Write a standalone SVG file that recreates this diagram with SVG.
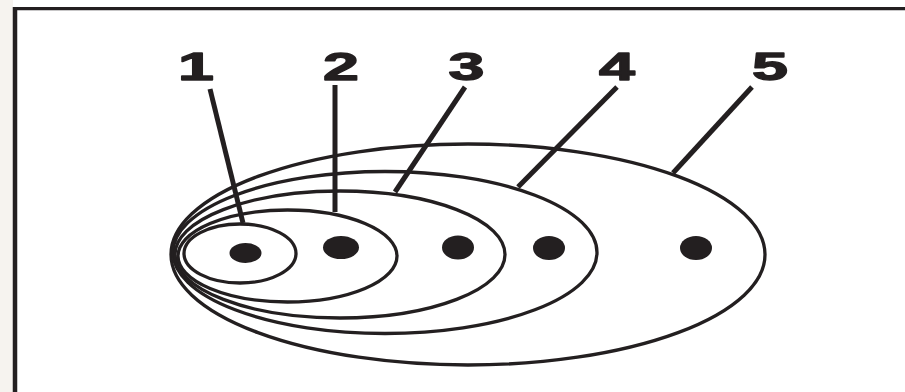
<svg xmlns="http://www.w3.org/2000/svg" width="905" height="392" viewBox="0 0 905 392">
<style>
.ring{fill:none;stroke:#231f20;stroke-width:3.3}
.dot{fill:#231f20}
.lead{stroke:#231f20;stroke-width:5;stroke-linecap:butt}
.lbl{font-family:"Liberation Sans",Arial,sans-serif;font-weight:bold;font-size:38px;fill:#231f20;stroke:#231f20;stroke-width:1.3;stroke-linejoin:round;text-anchor:middle}
</style>
<rect x="0" y="0" width="905" height="392" fill="#ffffff"/>
<rect x="0" y="0" width="13" height="392" fill="#f6f3ef"/>
<g id="frame">
<line x1="13" y1="8.7" x2="905" y2="8.7" stroke="#231f20" stroke-width="3.3"/>
<line x1="15" y1="7" x2="15" y2="392" stroke="#231f20" stroke-width="4.5"/>
</g>
<g id="node5">
<ellipse class="ring" cx="468" cy="254.5" rx="297" ry="110.5"/>
<ellipse class="dot" cx="696" cy="248" rx="16" ry="12"/>
<text class="lbl" transform="translate(770,79.5) scale(1.7,1)">5</text>
</g>
<g id="node4">
<ellipse class="ring" cx="385" cy="252.5" rx="212" ry="81"/>
<ellipse class="dot" cx="549" cy="248" rx="16" ry="12"/>
<text class="lbl" transform="translate(617,79.5) scale(1.7,1)">4</text>
</g>
<g id="node3">
<ellipse class="ring" cx="340" cy="254.5" rx="165" ry="63.5"/>
<ellipse class="dot" cx="458" cy="247.5" rx="16" ry="12"/>
<text class="lbl" transform="translate(466.5,79.5) scale(1.7,1)">3</text>
</g>
<g id="node2">
<ellipse class="ring" cx="287.5" cy="256" rx="109.5" ry="46"/>
<ellipse class="dot" cx="341" cy="247.5" rx="18" ry="11.5"/>
<text class="lbl" transform="translate(341,79.5) scale(1.7,1)">2</text>
</g>
<g id="node1">
<ellipse class="ring" cx="240" cy="253.5" rx="56" ry="29.5"/>
<ellipse class="dot" cx="245.5" cy="253" rx="16" ry="10"/>
<text class="lbl" transform="translate(196,79.5) scale(1.7,1)">1</text>
</g>
<g id="connectors">
<line class="lead" x1="210" y1="89" x2="243" y2="223"/>
<line class="lead" x1="335" y1="85" x2="335" y2="212"/>
<line class="lead" x1="465" y1="87" x2="395" y2="192"/>
<line class="lead" x1="617" y1="87" x2="518" y2="187"/>
<line class="lead" x1="752" y1="87" x2="673" y2="173"/>
</g>
</svg>
